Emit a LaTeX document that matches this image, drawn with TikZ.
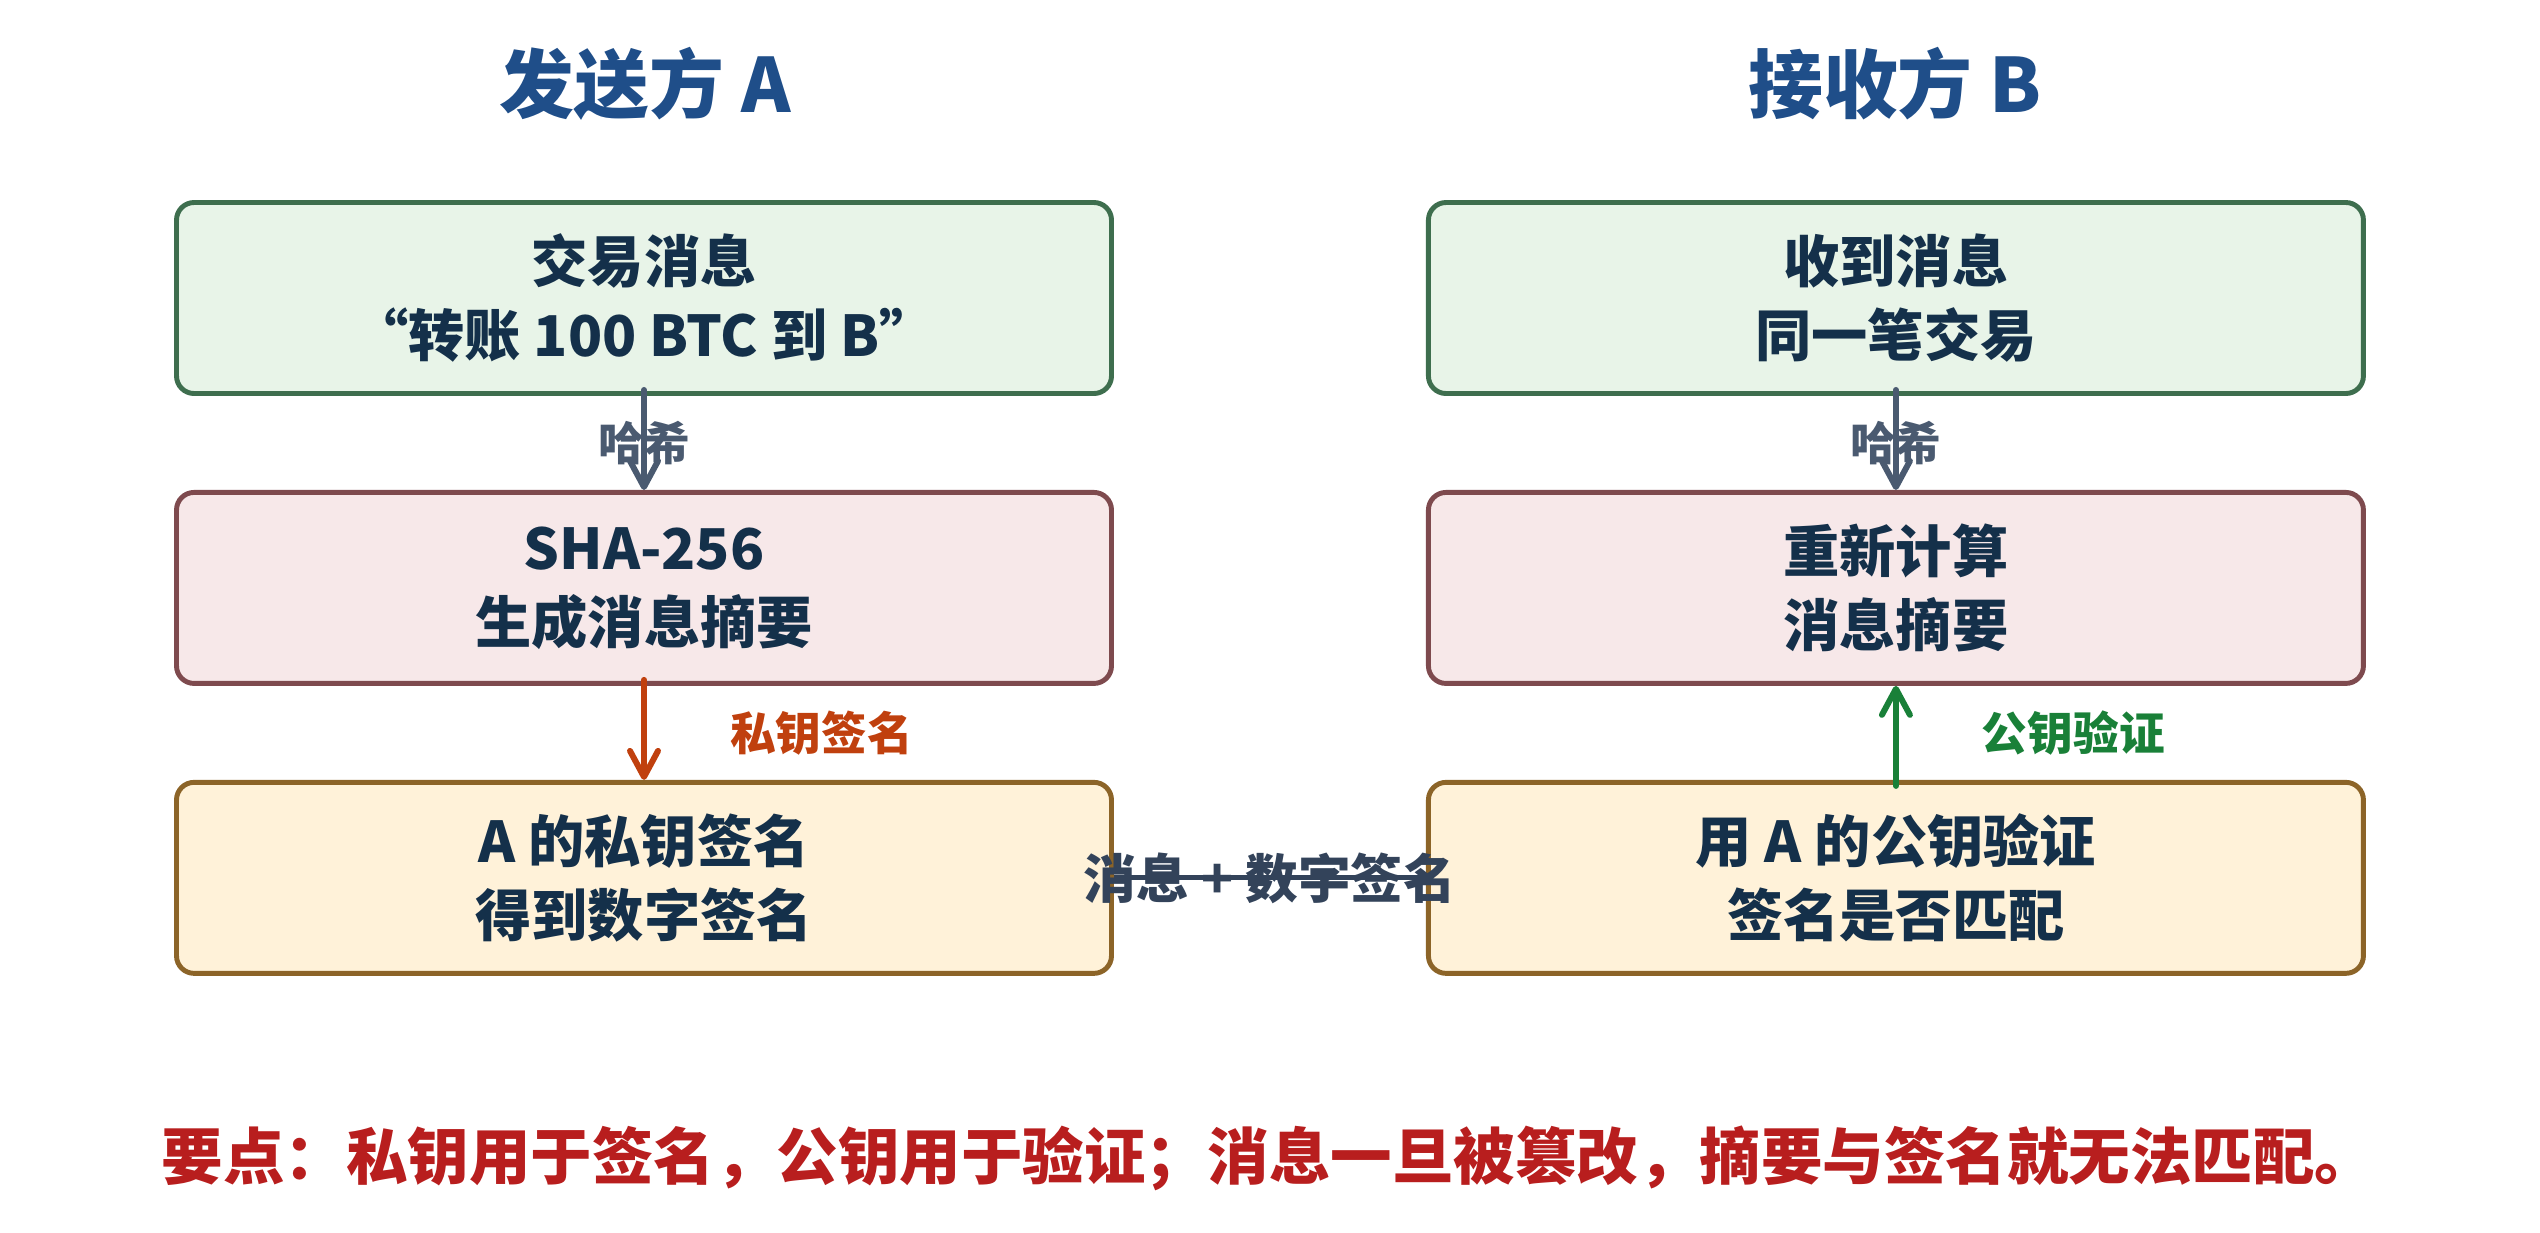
\documentclass[tikz,border=0pt]{standalone}
\usepackage{fontspec}
\setmainfont{Noto Sans CJK SC}
\usetikzlibrary{arrows.meta,positioning}
\definecolor{titleblue}{HTML}{1F4E89}
\definecolor{txtnavy}{HTML}{14304A}
\definecolor{msgfill}{HTML}{E8F4E8}
\definecolor{msgline}{HTML}{3E6E4E}
\definecolor{hashfill}{HTML}{F7E8E9}
\definecolor{hashline}{HTML}{7E4A4E}
\definecolor{signfill}{HTML}{FFF2D9}
\definecolor{signline}{HTML}{8C6428}
\definecolor{hashgray}{HTML}{4A5A70}
\definecolor{keyred}{HTML}{C0400E}
\definecolor{keygreen}{HTML}{198038}
\definecolor{wiregray}{HTML}{33435A}
\definecolor{notered}{HTML}{B81E1E}
\tikzset{
  box/.style={
    draw,
    line width=1.4pt,
    rounded corners=5pt,
    align=center,
    inner sep=4pt,
    minimum width=9.35cm,
    minimum height=1.91cm,
    text=txtnavy,
    font=\bfseries\fontsize{16}{21}\selectfont,
  },
  msgbox/.style={box, draw=msgline, fill=msgfill},
  hashbox/.style={box, draw=hashline, fill=hashfill},
  signbox/.style={box, draw=signline, fill=signfill},
  arr/.style={-{Straight Barb[length=2.6mm, width=2.8mm, round]}, line width=1.7pt, line cap=round},
  lbl/.style={font=\bfseries\fontsize{13}{15}\selectfont, inner sep=2pt},
  head/.style={font=\bfseries\fontsize{21.3}{25}\selectfont, text=titleblue},
  note/.style={font=\bfseries\fontsize{17.5}{20}\selectfont, text=notered},
}
\begin{document}
\begin{tikzpicture}[node distance=0.94cm and 3.12cm]
  \useasboundingbox (0,0) rectangle (25.4,-12.32);

  \node[head] (atitle) at (6.45,-0.84) {发送方 A};
  \node[head] (btitle) at (18.95,-0.84) {接收方 B};

  % sender column
  \node[msgbox] (amsg) at (6.44,-2.98) {交易消息\\“转账 100 BTC 到 B”};
  \node[hashbox, below=of amsg] (ahash) {SHA-256\\生成消息摘要};
  \node[signbox, below=of ahash] (asign) {A 的私钥签名\\得到数字签名};

  % receiver column
  \node[msgbox, right=of amsg] (bmsg) {收到消息\\同一笔交易};
  \node[hashbox, below=of bmsg] (bhash) {重新计算\\消息摘要};
  \node[signbox, below=of bhash] (bver) {用 A 的公钥验证\\签名是否匹配};

  \draw[arr, hashgray, shorten <=-0.6mm] (amsg) -- node[lbl, text=hashgray] {哈希} (ahash);
  \draw[arr, hashgray, shorten <=-0.6mm] (bmsg) -- node[lbl, text=hashgray] {哈希} (bhash);
  \draw[arr, keyred, shorten <=-0.6mm] (ahash) -- node[lbl, text=keyred, right=7.6mm] {私钥签名} (asign);
  \draw[arr, keygreen, shorten <=-0.6mm] (bver) -- node[lbl, text=keygreen, right=7.6mm] {公钥验证} (bhash);

  \draw[wiregray, line width=1.4pt] (asign) -- node[lbl, text=wiregray, font=\bfseries\fontsize{15}{17}\selectfont] {消息 + 数字签名} (bver);

  \node[note] (keynote) at (12.69,-11.58) {要点：私钥用于签名，公钥用于验证；消息一旦被篡改，摘要与签名就无法匹配。};
\end{tikzpicture}
\end{document}
